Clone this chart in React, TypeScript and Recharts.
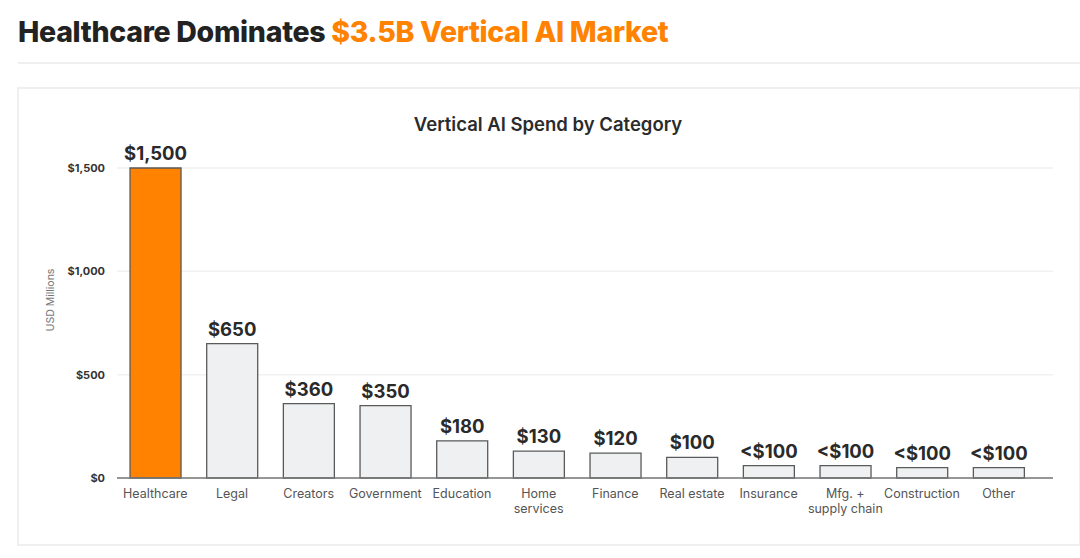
import React from 'react';
import { BarChart, Bar, XAxis, YAxis, CartesianGrid, Cell, LabelList, Label } from 'recharts';

const categories = ['Healthcare', 'Legal', 'Creators', 'Government', 'Education', 'Home services', 'Finance', 'Real estate', 'Insurance', 'Mfg. + supply chain', 'Construction', 'Other'];
const spend = [1500, 650, 360, 350, 180, 130, 120, 100, 60, 60, 50, 50];
const valueLabels = ['$1,500', '$650', '$360', '$350', '$180', '$130', '$120', '$100', '<$100', '<$100', '<$100', '<$100'];
const tickLines: { [key: string]: string[] } = {
    'Home services': ['Home', 'services'],
    'Mfg. + supply chain': ['Mfg. +', 'supply chain'],
};
const yTicks = [0, 500, 1000, 1500];

const ORANGE = '#FF8200';
const FONT = 'Inter, "Noto Sans", sans-serif';

const data = categories.map((name, i) => ({ name, spend: spend[i], label: valueLabels[i] }));

const fmtMoney = (v: number) => '$' + v.toLocaleString('en-US');

function CategoryTick({ x, y, payload }: any) {
    const lines = tickLines[payload.value] || [payload.value];
    return (
        <text x={x} y={y} textAnchor="middle" fill="#555" fontSize={12.5} fontFamily={FONT}>
            {lines.map((l, i) => (
                <tspan key={i} x={x} dy={i === 0 ? 12 : 15}>{l}</tspan>
            ))}
        </text>
    );
}

// y-axis title sits a bit above the plot's middle, as in the original
function AxisTitle({ viewBox }: any) {
    const cx = viewBox.x + 16;
    const cy = viewBox.y + viewBox.height / 2 - 23;
    return (
        <text x={cx} y={cy} transform={`rotate(-90 ${cx} ${cy})`} textAnchor="middle" dominantBaseline="central" fill="#777" fontSize={10.5} fontFamily={FONT}>
            USD Millions
        </text>
    );
}

export default function App() {
    return (
        <div style={{ position: 'absolute', left: 0, top: 0, width: 1080, height: 558, background: '#fff', fontFamily: FONT, overflow: 'hidden' }}>
            {/* headline */}
            <div style={{ position: 'absolute', left: 18, top: 14, fontSize: 28.5, fontWeight: 800, color: '#222', letterSpacing: -0.3, whiteSpace: 'nowrap' }}>
                Healthcare Dominates <span style={{ color: ORANGE }}>$3.5B Vertical AI Market</span>
            </div>
            <div style={{ position: 'absolute', left: 18, top: 62, width: 1062, height: 2, background: '#efefef' }} />

            {/* card */}
            <div style={{ position: 'absolute', left: 17, top: 87, width: 1060, height: 455, border: '2px solid #efefef', boxSizing: 'content-box' }} />
            <div style={{ position: 'absolute', left: 0, width: 1096, top: 113, textAlign: 'center', fontSize: 18.5, fontWeight: 600, color: '#2b2b2b' }}>
                Vertical AI Spend by Category
            </div>

            <div style={{ position: 'absolute', left: 0, top: 0 }}>
                <BarChart width={1080} height={558} data={data} margin={{ top: 168, right: 27, bottom: 0, left: 34 }} barCategoryGap="17%">
                    <CartesianGrid vertical={false} stroke="#f1f1f1" strokeWidth={1.5} />
                    <XAxis
                        dataKey="name"
                        interval={0}
                        tick={<CategoryTick />}
                        tickLine={false}
                        axisLine={{ stroke: '#777', strokeWidth: 1.5 }}
                        padding={{ left: 0, right: 16 }}
                        height={80}
                    />
                    <YAxis
                        width={83}
                        domain={[0, 1500]}
                        ticks={yTicks}
                        tickFormatter={fmtMoney}
                        tick={{ fill: '#333', fontSize: 11, fontWeight: 700, fontFamily: FONT }}
                        tickLine={false}
                        axisLine={false}
                        tickMargin={6}
                    >
                        <Label content={<AxisTitle />} />
                    </YAxis>
                    <Bar dataKey="spend" isAnimationActive={false} stroke="#5a5a5a" strokeWidth={1.3}>
                        {data.map((d, i) => (
                            <Cell key={d.name} fill={i === 0 ? ORANGE : '#EEF0F1'} />
                        ))}
                        <LabelList dataKey="label" position="top" offset={8} fill="#2a2a2a" fontSize={18.5} fontWeight={700} fontFamily={FONT} />
                    </Bar>
                </BarChart>
            </div>
        </div>
    );
}
